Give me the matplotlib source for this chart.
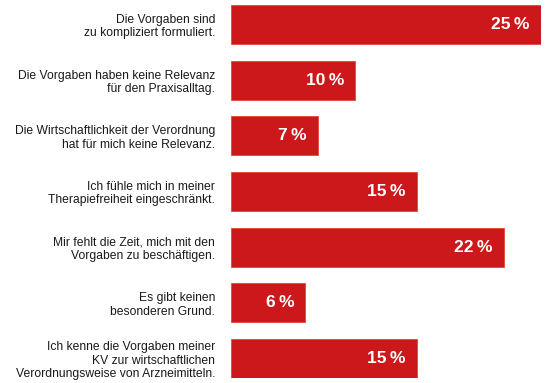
import matplotlib
matplotlib.use("Agg")
import matplotlib.pyplot as plt

plt.rcParams['font.family'] = ['Liberation Sans', 'DejaVu Sans']

categories = [
    "Die Vorgaben sind\nzu kompliziert formuliert.",
    "Die Vorgaben haben keine Relevanz\nfür den Praxisalltag.",
    "Die Wirtschaftlichkeit der Verordnung\nhat für mich keine Relevanz.",
    "Ich fühle mich in meiner\nTherapiefreiheit eingeschränkt.",
    "Mir fehlt die Zeit, mich mit den\nVorgaben zu beschäftigen.",
    "Es gibt keinen\nbesonderen Grund.",
    "Ich kenne die Vorgaben meiner\nKV zur wirtschaftlichen\nVerordnungsweise von Arzneimitteln.",
]
values = [25, 10, 7, 15, 22, 6, 15]

red = "#cc181a"
W, H = 550, 383
fig = plt.figure(figsize=(5.5, 3.83), dpi=100)
ax = fig.add_axes([231 / W, 5 / H, 310 / W, 373 / H])

pos = list(range(len(values)))
ax.barh(pos, values, height=0.7, color=red, edgecolor="#e04a3a", linewidth=0.6)
ax.set_xlim(0, 25)
ax.set_ylim(len(values) - 0.65, -0.35)

ax.set_yticks(pos)
ax.set_yticklabels(categories, fontsize=8.7, color="#1a1a1a", linespacing=1.15,
                   multialignment="right")
ax.tick_params(axis="y", length=0, pad=11.5)
ax.set_xticks([])
for s in ax.spines.values():
    s.set_visible(False)

for p, v in zip(pos, values):
    ax.annotate(f"{v}\u2009%", xy=(v, p), xytext=(-8, 0), textcoords="offset points",
                ha="right", va="center", color="white", fontsize=12.5, fontweight="bold")

fig.savefig("out.png", dpi=100)
